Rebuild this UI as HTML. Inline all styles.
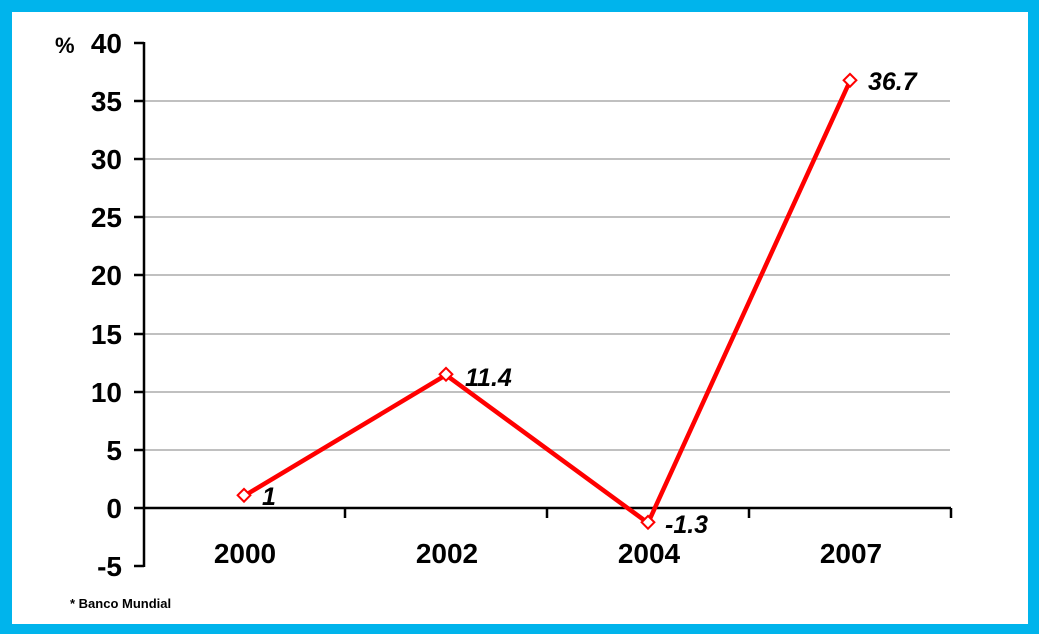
<!DOCTYPE html>
<html><head><style>body{margin:0}</style></head><body>
<svg width="1039" height="634" xmlns="http://www.w3.org/2000/svg" style="display:block;font-family:'Liberation Sans',Arial,sans-serif">
<rect width="1039" height="634" fill="#00b4ec"/>
<rect x="12" y="12" width="1016" height="612" fill="#fff"/>
<g stroke="#c0c0c0" stroke-width="2">
<line x1="144" y1="101" x2="950" y2="101"/><line x1="144" y1="159" x2="950" y2="159"/>
<line x1="144" y1="217" x2="950" y2="217"/><line x1="144" y1="275" x2="950" y2="275"/>
<line x1="144" y1="334" x2="950" y2="334"/><line x1="144" y1="392" x2="950" y2="392"/>
<line x1="144" y1="450" x2="950" y2="450"/>
</g>
<g stroke="#000" stroke-width="2.5">
<line x1="144" y1="42" x2="144" y2="567"/>
<line x1="144" y1="508" x2="951" y2="508"/>
<line x1="134" y1="43" x2="144" y2="43"/><line x1="134" y1="101" x2="144" y2="101"/>
<line x1="134" y1="159" x2="144" y2="159"/><line x1="134" y1="217" x2="144" y2="217"/>
<line x1="134" y1="275" x2="144" y2="275"/><line x1="134" y1="334" x2="144" y2="334"/>
<line x1="134" y1="392" x2="144" y2="392"/><line x1="134" y1="450" x2="144" y2="450"/>
<line x1="134" y1="508" x2="144" y2="508"/><line x1="134" y1="566" x2="144" y2="566"/>
<line x1="345" y1="508" x2="345" y2="518"/><line x1="547" y1="508" x2="547" y2="518"/>
<line x1="749" y1="508" x2="749" y2="518"/><line x1="951" y1="508" x2="951" y2="518"/>
</g>
<g font-size="28" font-weight="bold" text-anchor="end" fill="#000">
<text x="122" y="53">40</text><text x="122" y="111">35</text><text x="122" y="169">30</text>
<text x="122" y="227">25</text><text x="122" y="285">20</text><text x="122" y="344">15</text>
<text x="122" y="402">10</text><text x="122" y="460">5</text><text x="122" y="518">0</text>
<text x="122" y="576">-5</text>
</g>
<text x="55" y="53" font-size="22" font-weight="bold">%</text>
<g font-size="28" font-weight="bold" text-anchor="middle">
<text x="245" y="563">2000</text><text x="447" y="563">2002</text>
<text x="649" y="563">2004</text><text x="851" y="563">2007</text>
</g>
<polyline points="244,496 446,375 648,523 850,81" fill="none" stroke="#f00" stroke-width="4.5" stroke-linejoin="miter"/>
<g fill="#fff" stroke="#f00" stroke-width="2">
<rect x="239" y="491" width="9" height="9" transform="rotate(45 244 496)"/>
<rect x="441" y="370" width="9" height="9" transform="rotate(45 446 375)"/>
<rect x="643" y="518" width="9" height="9" transform="rotate(45 648 523)"/>
<rect x="845" y="76" width="9" height="9" transform="rotate(45 850 81)"/>
</g>
<g font-size="25" font-weight="bold" font-style="italic">
<text x="262" y="505">1</text><text x="465" y="386">11.4</text>
<text x="665" y="533">-1.3</text><text x="868" y="90">36.7</text>
</g>
<text x="70" y="608" font-size="13" font-weight="bold">* Banco Mundial</text>
</svg>
</body></html>
